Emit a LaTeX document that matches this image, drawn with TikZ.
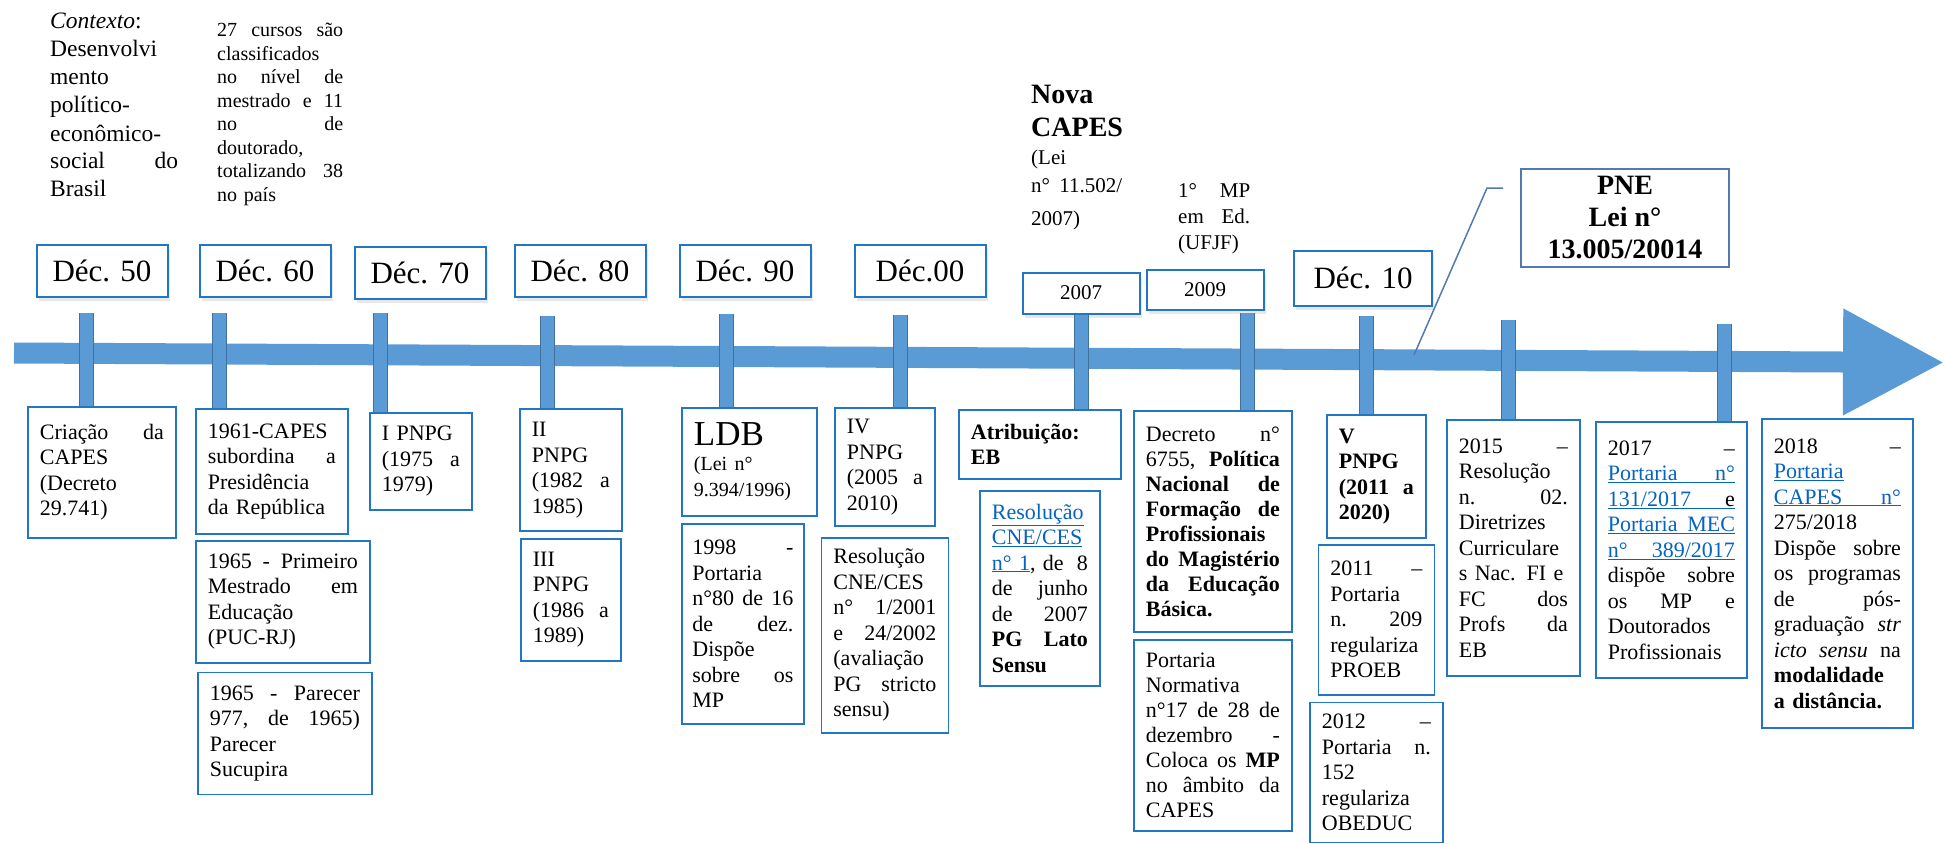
\documentclass[tikz,border=0pt]{standalone}
\usepackage{fontspec}
\setmainfont{Liberation Serif}
\usetikzlibrary{positioning,shadows,arrows.meta}

\definecolor{boxBlue}{RGB}{34,118,196}
\definecolor{bandBlue}{RGB}{91,155,213}
\definecolor{tickEdge}{RGB}{65,113,156}
\definecolor{linkBlue}{RGB}{5,99,193}
\definecolor{pneBlue}{RGB}{84,120,176}

\newcommand{\lnk}[1]{\textcolor{linkBlue}{\underline{#1}}}
\newcommand{\lnkline}[1]{\lnk{\hbox to\hsize{#1}}}

\tikzstyle{decNode} = [rectangle, draw=boxBlue, line width=2pt, fill=white, minimum width=131pt, minimum height=52pt, font=\fontsize{31}{34}\selectfont, drop shadow={opacity=0.18,shadow xshift=2pt,shadow yshift=-4pt}]
\tikzstyle{yearNode} = [rectangle, draw=boxBlue, line width=2pt, fill=white, minimum width=117pt, minimum height=41pt, font=\fontsize{21}{24}\selectfont, drop shadow={opacity=0.18,shadow xshift=2pt,shadow yshift=-4pt}]
\tikzstyle{infoNode} = [rectangle, draw=boxBlue, line width=1.8pt, fill=white, inner xsep=12pt, inner ysep=3pt, align=left, anchor=north west, font=\fontsize{22}{25.5}\selectfont]
\tikzstyle{noteText} = [inner sep=0pt, anchor=base west, align=left]
\tikzstyle{pneNode} = [rectangle, draw=pneBlue, line width=2pt, fill=white, minimum width=208pt, minimum height=98pt, align=center, font=\fontsize{28}{32}\selectfont\bfseries]
\tikzstyle{tickBar} = [draw=bandBlue, line width=13pt, preaction={draw=tickEdge, line width=15pt}]
\tikzstyle{timeLine} = [draw=bandBlue, line width=21pt, -{Triangle[length=101pt, width=101pt]}]
\tikzstyle{calloutLine} = [draw=pneBlue, line width=1.5pt]

\begin{document}
\begin{tikzpicture}[x=1pt, y=-1pt]
    \useasboundingbox (0,0) rectangle (1945,843);

    \node (contexto)[noteText, text width=128pt, font=\fontsize{23.5}{28}\selectfont] at (50,29) {\textit{Contexto}:\\ Desenvolvi\\ mento\\ político-\\ econômico-\\ social\hfill do\\ Brasil};
    \node (cursos)[noteText, text width=126pt, font=\fontsize{20}{23.5}\selectfont] at (217,37) {27\hfill cursos\hfill são\\ classificados\\ no\hfill nível\hfill de\\ mestrado\hfill e\hfill 11\\ no\hfill de\\ doutorado,\\ totalizando\hfill 38\\ no país};
    \node (novaCapes)[noteText, text width=92pt, font=\fontsize{28}{33}\selectfont\bfseries] at (1031,103) {Nova\\ CAPES\\ \fontsize{21}{28}\selectfont\mdseries (Lei\\ n° 11.502/\\ 2007)};
    \node (primeiroMP)[noteText, text width=72pt, font=\fontsize{21}{26}\selectfont] at (1178,197) {1°\hfill MP\\ em\hfill Ed.\\ (UFJF)};

    \node (d50)[decNode] at (102,271) {Déc. 50};
    \node (d60)[decNode] at (265,271) {Déc. 60};
    \node (d70)[decNode] at (420,273) {Déc. 70};
    \node (d80)[decNode] at (580,271) {Déc. 80};
    \node (d90)[decNode] at (745,271) {Déc. 90};
    \node (d00)[decNode] at (920,271) {Déc.00};
    \node (d10)[decNode, minimum width=138pt, minimum height=55pt] at (1363,278) {Déc. 10};
    \node (y2007)[yearNode] at (1081,293) {2007};
    \node (y2009)[yearNode, minimum height=40pt] at (1205,290) {2009};
    \node (pne)[pneNode] at (1625,218) {PNE\\ Lei n°\\ 13.005/20014};

    \node (capes)[infoNode, text width=124pt, minimum height=131pt] at (27,406) {Criação\hfill da\\ CAPES\\ (Decreto\\ 29.741)};
    \node (n1961)[infoNode, text width=128pt, minimum height=125pt] at (195,408) {1961-CAPES\\ subordina\hfill a\\ Presidência\\ da República};
    \node (n1965a)[infoNode, text width=150pt, minimum height=122pt, below=5pt of n1961.south west, anchor=north west] {1965\hfill -\hfill Primeiro\\ Mestrado\hfill em\\ Educação\\ (PUC-RJ)};
    \node (n1965b)[infoNode, text width=150pt, minimum height=122pt, below=8pt of n1965a.south west, anchor=north west, xshift=2pt] {1965\hfill -\hfill Parecer\\ 977,\hfill de\hfill 1965)\\ Parecer\\ Sucupira};
    \node (pnpg1)[infoNode, text width=78pt, minimum height=97pt] at (369,412) {I PNPG\\ (1975\hfill a\\ 1979)};
    \node (pnpg2)[infoNode, text width=78pt, minimum height=122pt] at (519,408) {II\\ PNPG\\ (1982\hfill a\\ 1985)};
    \node (pnpg3)[infoNode, text width=76pt, minimum height=122pt, below=6pt of pnpg2] {III\\ PNPG\\ (1986\hfill a\\ 1989)};
    \node (ldb)[infoNode, text width=111pt, minimum height=108pt] at (681,407) {\fontsize{35}{38}\selectfont LDB\\ \fontsize{20}{25}\selectfont (Lei n°\\ 9.394/1996)};
    \node (port98)[infoNode, text width=101pt, inner xsep=10.5pt, minimum height=200pt, below=6pt of ldb.south west, anchor=north west] {1998\hfill -\\ Portaria\\ n°80\hfill de\hfill 16\\ de\hfill dez.\\ Dispõe\\ sobre\hfill os\\ MP};
    \node (pnpg4)[infoNode, text width=76pt, minimum height=118pt] at (834,407) {IV\\ PNPG\\ (2005\hfill a\\ 2010)};
    \node (res01)[infoNode, text width=103pt, minimum height=195pt, below=10pt of pnpg4] {Resolução\\ CNE/CES\\ n°\hfill 1/2001\\ e\hfill 24/2002\\ (avaliação\\ PG\hfill stricto\\ sensu)};
    \node (atrib)[infoNode, text width=138pt, minimum height=69pt, font=\fontsize{22}{25.5}\selectfont\bfseries] at (958,409) {Atribuição:\\ EB};
    \node (res07)[infoNode, text width=96pt, minimum height=195pt, below=10pt of atrib] {\lnk{Resolução}\\ \lnk{CNE/CES}\\ \lnk{n°~1}, de\hfill 8\\ de\hfill junho\\ de\hfill 2007\\ \bfseries PG\hfill Lato\\ Sensu};
    \node (decreto)[infoNode, text width=134pt, minimum height=221pt, font=\fontsize{22}{25}\selectfont] at (1133,410) {Decreto\hfill n°\\ 6755,\hfill\textbf{Política}\\ \bfseries Nacional\hfill de\\ Formação\hfill de\\ Profissionais\\ do\hfill Magistério\\ da\hfill Educação\\ Básica.};
    \node (portNorm)[infoNode, text width=134pt, minimum height=191pt, font=\fontsize{22}{25}\selectfont, below=6pt of decreto.south west, anchor=north west] {Portaria\\ Normativa\\ n°17\hfill de\hfill 28\hfill de\\ dezembro\hfill -\\ Coloca\hfill os\hfill \textbf{MP}\\ no\hfill âmbito\hfill da\\ CAPES};
    \node (pnpg5)[infoNode, text width=75pt, minimum height=123pt, font=\fontsize{22}{25.5}\selectfont\bfseries] at (1326,414) {V\\ PNPG\\ (2011\hfill a\\ 2020)};
    \node (port11)[infoNode, text width=92pt, minimum height=150pt, below=5pt of pnpg5] {2011\hfill –\\ Portaria\\ n.\hfill 209\\ regulariza\\ PROEB};
    \node (port12)[infoNode, text width=109pt, minimum height=140pt, below=6pt of port11] {2012\hfill –\\ Portaria\hfill n.\\ 152\\ regulariza\\ OBEDUC};
    \node (res15)[infoNode, text width=109pt, minimum height=256pt] at (1446,419) {2015\hfill –\\ Resolução\\ n.\hfill 02.\\ Diretrizes\\ Curriculare\\ s Nac. FI e\\ FC\hfill dos\\ Profs\hfill da\\ EB};
    \node (port17)[infoNode, text width=127pt, minimum height=256pt] at (1595,421) {2017\hfill –\\ \lnkline{Portaria\hfill n°}\\ \lnkline{131/2017\hfill\textcolor{black}{e}}\\ \lnkline{Portaria\hfill MEC}\\ \lnkline{n°\hfill 389/2017}\\ dispõe\hfill sobre\\ os\hfill MP\hfill e\\ Doutorados\\ Profissionais};
    \node (port18)[infoNode, text width=127pt, minimum height=309pt] at (1761,418) {2018\hfill –\\ \lnk{Portaria}\\ \lnkline{CAPES\hfill n°}\\ 275/2018\\ Dispõe\hfill sobre\\ os\hfill programas\\ de\hfill pós-\\ graduação\hfill\textit{str}\\ \textit{icto}\hfill\textit{sensu}\hfill na\\ \bfseries modalidade\\ a distância.};

    \coordinate (lineStart) at (14,353);
    \coordinate (lineEnd) at (1944,362.5);
    \draw [timeLine] (lineStart) -- (lineEnd);

    \coordinate (t50) at (86,313);
    \coordinate (t60) at (219,313);
    \coordinate (t70) at (380,313);
    \coordinate (t80) at (547,316);
    \coordinate (t90) at (726,314);
    \coordinate (t00) at (900,315);
    \coordinate (t09) at (1247,313);
    \coordinate (t10) at (1366,316);
    \coordinate (t15) at (1508,320);
    \coordinate (t17) at (1724,324);

    \draw [tickBar] (t50) -- (t50 |- capes.north);
    \draw [tickBar] (t60) -- (t60 |- n1961.north);
    \draw [tickBar] (t70) -- (t70 |- pnpg1.north);
    \draw [tickBar] (t80) -- (t80 |- pnpg2.north);
    \draw [tickBar] (t90) -- (t90 |- ldb.north);
    \draw [tickBar] (t00) -- (t00 |- pnpg4.north);
    \draw [tickBar] (y2007.south) -- (y2007.south |- atrib.north);
    \draw [tickBar] (t09) -- (t09 |- decreto.north);
    \draw [tickBar] (t10) -- (t10 |- pnpg5.north);
    \draw [tickBar] (t15) -- (t15 |- res15.north);
    \draw [tickBar] (t17) -- (t17 |- port17.north);

    \coordinate (pneHook) at (1503,188);
    \coordinate (pneFoot) at (1414,355);
    \draw [calloutLine] (pneHook) -- ++(-16,0) -- (pneFoot);
\end{tikzpicture}
\end{document}
